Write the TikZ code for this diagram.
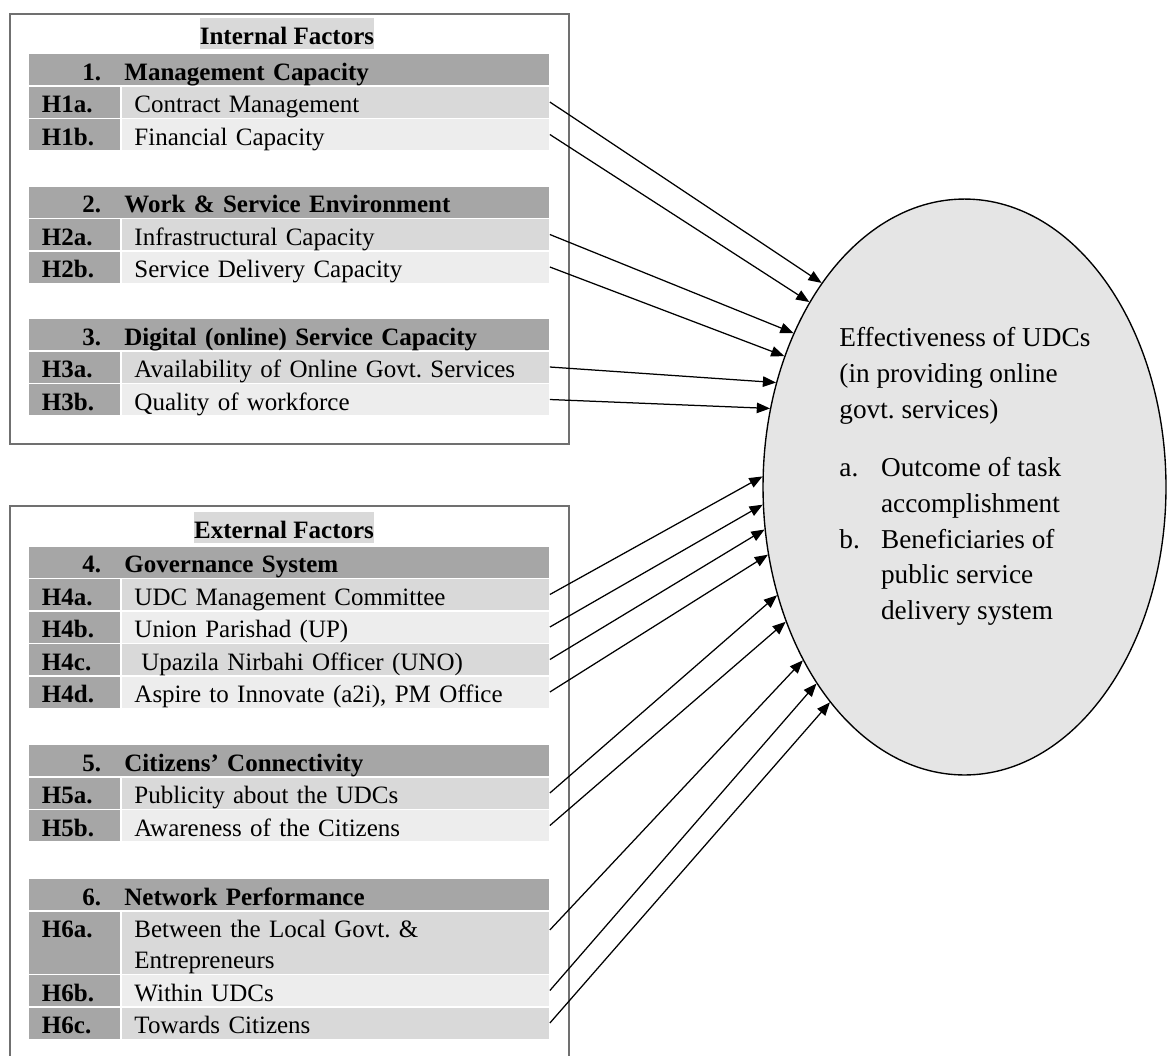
\documentclass[tikz,border=0pt]{standalone}
\usepackage{fontspec}
\setmainfont{Liberation Serif}
\usepackage{tikz}
\usetikzlibrary{calc,arrows.meta,shapes.geometric}
\definecolor{hdrGray}{RGB}{166,166,166}
\definecolor{rowDark}{RGB}{217,217,217}
\definecolor{rowLight}{RGB}{237,237,237}
\definecolor{udcFill}{RGB}{229,229,229}
\definecolor{boxGray}{RGB}{112,112,112}
\frenchspacing

\begin{document}
\begin{tikzpicture}[x=0.44pt,y=-0.44pt,
  cell/.style={rectangle, inner ysep=0pt, text height=11.64pt, text depth=2pt, font=\fontsize{11}{13.64}\selectfont},
  hdrrow/.style={cell, anchor=west, fill=hdrGray, inner xsep=23.3pt, text width=182.2pt, align=left, font=\fontsize{11}{13.64}\selectfont\bfseries},
  labcell/.style={cell, anchor=west, fill=hdrGray, inner xsep=5.5pt, text width=29.04pt, align=left, font=\fontsize{11}{13.64}\selectfont\bfseries},
  txtcell/.style={cell, anchor=west, inner xsep=5.28pt, text width=177.3pt, align=left},
  factitle/.style={cell, fill=rowDark, inner xsep=0pt, font=\fontsize{11}{13.64}\selectfont\bfseries},
  factbox/.style={draw=boxGray, line width=0.9pt},
  link/.style={-{Triangle[length=5.8pt,width=4.6pt]}, line width=0.55pt, black}]
\useasboundingbox (0,0) rectangle (1167,1055);
\draw[factbox] (10,14) rectangle (569,444);
\draw[factbox] (10,1062) -- (10,506) -- (569,506) -- (569,1062);

\node[factitle] (intl) at (287,33.5) {Internal Factors};
\node[hdrrow] (hdr1) at (29,69.5) {\makebox[18.5pt][l]{1.}Management Capacity};
\node[labcell] (l1a) at (29,102) {H1a.};
\node[txtcell, fill=rowDark] (h1a) at (122,102) {Contract Management};
\node[labcell] (l1b) at (29,134.5) {H1b.};
\node[txtcell, fill=rowLight] (h1b) at (122,134.5) {Financial Capacity};
\node[hdrrow] (hdr2) at (29,202) {\makebox[18.5pt][l]{2.}Work \& Service Environment};
\node[labcell] (l2a) at (29,234.5) {H2a.};
\node[txtcell, fill=rowDark] (h2a) at (122,234.5) {Infrastructural Capacity};
\node[labcell] (l2b) at (29,267) {H2b.};
\node[txtcell, fill=rowLight] (h2b) at (122,267) {Service Delivery Capacity};
\node[hdrrow] (hdr3) at (29,334.5) {\makebox[18.5pt][l]{3.}Digital (online) Service Capacity};
\node[labcell] (l3a) at (29,367) {H3a.};
\node[txtcell, fill=rowDark] (h3a) at (122,367) {Availability of Online Govt. Services};
\node[labcell] (l3b) at (29,399.5) {H3b.};
\node[txtcell, fill=rowLight] (h3b) at (122,399.5) {Quality of workforce};

\node[factitle] (extl) at (284,527.5) {External Factors};
\node[hdrrow] (hdr4) at (29,562) {\makebox[18.5pt][l]{4.}Governance System};
\node[labcell] (l4a) at (29,594.5) {H4a.};
\node[txtcell, fill=rowDark] (h4a) at (122,594.5) {UDC Management Committee};
\node[labcell] (l4b) at (29,627) {H4b.};
\node[txtcell, fill=rowLight] (h4b) at (122,627) {Union Parishad (UP)};
\node[labcell] (l4c) at (29,659.5) {H4c.};
\node[txtcell, fill=rowDark] (h4c) at (122,659.5) {\hspace*{3pt}Upazila Nirbahi Officer (UNO)};
\node[labcell] (l4d) at (29,692) {H4d.};
\node[txtcell, fill=rowLight] (h4d) at (122,692) {Aspire to Innovate (a2i), PM Office};
\node[hdrrow] (hdr5) at (29,760.5) {\makebox[18.5pt][l]{5.}Citizens’ Connectivity};
\node[labcell] (l5a) at (29,793) {H5a.};
\node[txtcell, fill=rowDark] (h5a) at (122,793) {Publicity about the UDCs};
\node[labcell] (l5b) at (29,825.5) {H5b.};
\node[txtcell, fill=rowLight] (h5b) at (122,825.5) {Awareness of the Citizens};
\node[hdrrow] (hdr6) at (29,894.5) {\makebox[18.5pt][l]{6.}Network Performance};
\node[labcell, text depth=15.64pt] (l6a) at (29,942.5) {H6a.};
\node[txtcell, fill=rowDark, text depth=15.64pt] (h6a) at (122,942.5) {\begin{tabular}[t]{@{}l@{}}Between the Local Govt. \&\\Entrepreneurs\end{tabular}};
\node[labcell] (l6b) at (29,990.5) {H6b.};
\node[txtcell, fill=rowLight] (h6b) at (122,990.5) {Within UDCs};
\node[labcell] (l6c) at (29,1023) {H6c.};
\node[txtcell, fill=rowDark] (h6c) at (122,1023) {Towards Citizens};

\node[ellipse, draw=black, line width=0.6pt, fill=udcFill, minimum width=177.3pt, minimum height=253.4pt, inner sep=0pt] (udc) at (964.5,487) {};
\node[anchor=north west, inner sep=0pt, align=left, font=\fontsize{12}{15.7}\selectfont] (udctext) at (839,327) {Effectiveness of UDCs\\(in providing online\\govt. services)\\[10.2pt]\makebox[18.3pt][l]{a.}Outcome of task\\\hspace*{18.3pt}accomplishment\\\makebox[18.3pt][l]{b.}Beneficiaries of\\\hspace*{18.3pt}public service\\\hspace*{18.3pt}delivery system};

\draw[link] (h1a.east) -- (udc.125.7);
\draw[link] (h1b.east) -- (udc.130.3);
\draw[link] (h2a.east) -- (udc.138.7);
\draw[link] (h2b.east) -- (udc.144.1);
\draw[link] (h3a.east) -- (udc.151.5);
\draw[link] (h3b.east) -- (udc.158.9);
\draw[link] (h4a.east) -- (udc.177.5);
\draw[link] (h4b.east) -- (udc.185);
\draw[link] (h4c.east) -- (udc.192.8);
\draw[link] (h4d.east) -- (udc.199.7);
\draw[link] (h5a.east) -- (udc.210.9);
\draw[link] (h5b.east) -- (udc.217.5);
\draw[link] ($(h6a.north east)!0.3!(h6a.south east)$) -- (udc.227.4);
\draw[link] (h6b.east) -- (udc.233);
\draw[link] (h6c.east) -- (udc.238.4);
\end{tikzpicture}
\end{document}
